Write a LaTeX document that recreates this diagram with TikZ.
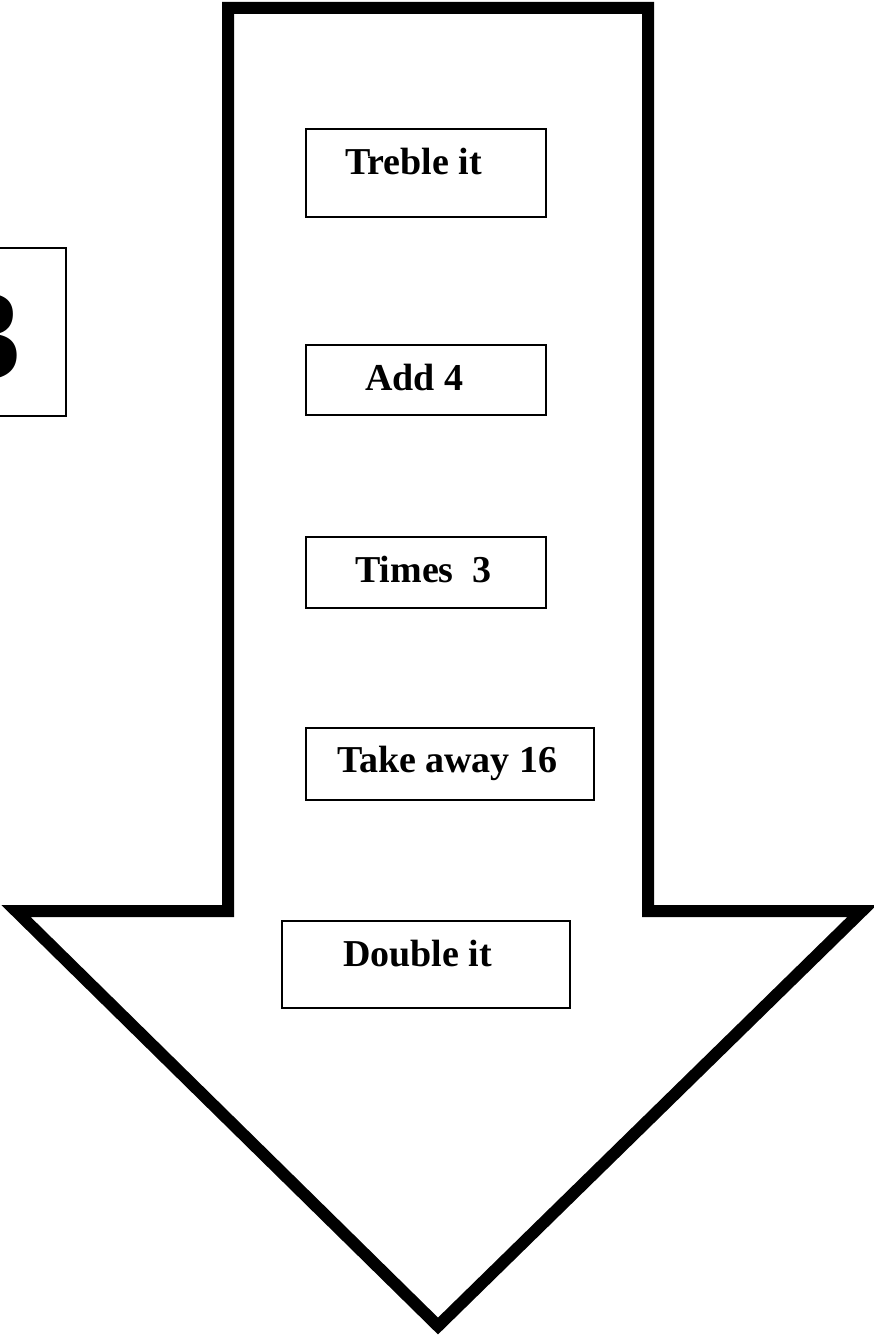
\documentclass[tikz,border=0pt]{standalone}
\usepackage{fontspec}
\setmainfont{Liberation Serif}
\begin{document}
\begin{tikzpicture}[x=1pt,y=-1pt,
  stepbox/.style={draw=black,line width=1.6pt},
  lbl/.style={anchor=base west,inner sep=0pt,font=\fontsize{38}{40}\selectfont\bfseries}]
\useasboundingbox (0,0) rectangle (874,1338);
% big arrow
\draw[line width=12pt,line join=miter] (228,8) -- (648,8) -- (648,911) -- (862,911) -- (438,1326) -- (16,911) -- (228,911) -- cycle;
% start box with big 3 (cut at left)
\begin{scope}
\clip (0,0) rectangle (874,1338);
\draw[stepbox] (-60,248) rectangle (66,416);
\node[anchor=base,inner sep=0pt,font=\fontsize{128}{128}\selectfont\bfseries] (three) at (-10,378) {3};
\end{scope}
% step boxes
\draw[stepbox] (306,129) rectangle (546,217);
\node[lbl] (t1) at (345,174) {Treble it};
\draw[stepbox] (306,345) rectangle (546,415);
\node[lbl] (t2) at (365,390) {Add 4};
\draw[stepbox] (306,537) rectangle (546,608);
\node[lbl] (t3) at (355,582) {Times\ \ 3};
\draw[stepbox] (306,728) rectangle (594,800);
\node[lbl] (t4) at (337,772) {Take away 16};
\draw[stepbox] (282,921) rectangle (570,1008);
\node[lbl] (t5) at (343,966) {Double it};
\end{tikzpicture}
\end{document}
